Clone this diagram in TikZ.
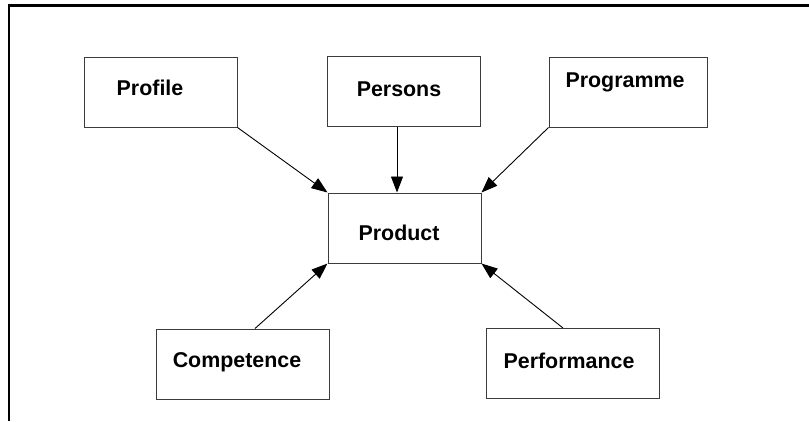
\documentclass[tikz,border=0pt]{standalone}
\usepackage{fontspec}
\setmainfont{Liberation Sans}
\usetikzlibrary{arrows.meta,positioning,calc}
\definecolor{boxgray}{RGB}{60,60,60}

\begin{document}
\begin{tikzpicture}[x=1pt, y=-1pt,
		box/.style={draw=boxgray, line width=1pt, minimum width=153pt, minimum height=70pt, inner sep=0pt},
		txt/.style={font=\fontsize{21.4}{25}\selectfont\bfseries, inner sep=0pt},
		feed/.style={line width=0.9pt, -{Triangle[length=16pt, width=12pt]}}]
				\useasboundingbox (0,0) rectangle (809,421);
				
				% Frame
				\draw[line width=2.5pt] (809,5.3) -- (9.2,5.3) -- (9.2,421);
				
				% Top row
				\node[box, label={[txt, xshift=-10.5pt, yshift=4pt]center:Profile}] (profile) at (160.5,92) {};
				\node[box, label={[txt, xshift=-4.5pt, yshift=2.5pt]center:Persons}] (persons) at (403.5,91.5) {};
				\node[box, minimum width=158pt, label={[txt, xshift=-3pt, yshift=10pt]center:Programme}] (programme) at (628,92) {};
				
				% Centre
				\node[box, label={[txt, xshift=-5.5pt, yshift=-5pt]center:Product}] (product) at (404.5,228) {};
				
				% Bottom row
				\node[box, minimum width=173pt, label={[txt, xshift=-5.5pt, yshift=2pt]center:Competence}] (competence) at (242.5,364) {};
				\node[box, minimum width=173pt, label={[txt, xshift=-3.5pt, yshift=2.5pt]center:Performance}] (performance) at (572.5,363.5) {};
				
				% Arrows into Product
				\draw[feed] (profile.south east) -- (product.north west);
				\draw[feed] ([xshift=-6.5pt]persons.south) -- ([xshift=-7.5pt]product.north);
				\draw[feed] (programme.south west) -- (product.north east);
				\draw[feed] ([xshift=12.5pt]competence.north) -- (product.south west);
				\draw[feed] ([xshift=-9.5pt]performance.north) -- (product.south east);
			\end{tikzpicture}
\end{document}
